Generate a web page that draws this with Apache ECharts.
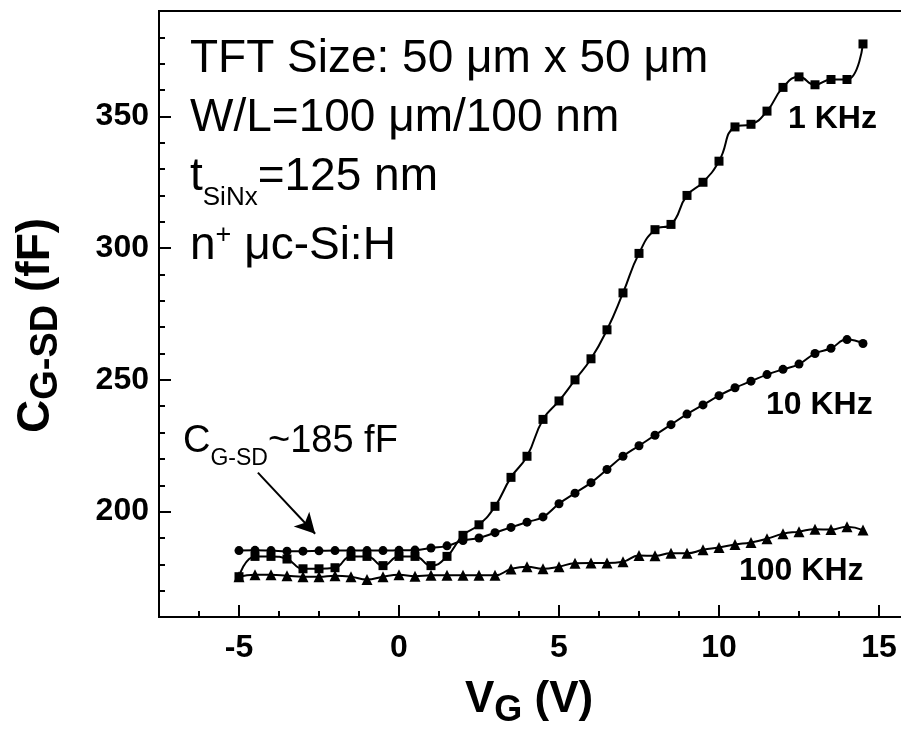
<!DOCTYPE html>
<html><head><meta charset="utf-8">
<script src="https://cdn.jsdelivr.net/npm/echarts@6/dist/echarts.min.js"></script>
<style>html,body{margin:0;padding:0;background:#fff;overflow:hidden;width:901px;height:734px}#c{width:980px;height:734px}</style>
</head><body><div id="c"></div>
<script>
// ---- data ----
const vg = [-5,-4.5,-4,-3.5,-3,-2.5,-2,-1.5,-1,-0.5,0,0.5,1,1.5,2,2.5,3,3.5,4,4.5,5,5.5,6,6.5,7,7.5,8,8.5,9,9.5,10,10.5,11,11.5,12,12.5,13,13.5,14,14.5];
const c1k = [175.3,183,183,182,178.3,178.3,178.7,183,183,179.5,183,183,179.5,183,191,195,202,213,221,235,242,250,258,269,283,298,307,309,320,325,333,346,347,352,361,365,362,364,364,377.5];
const c10k = [185.2,185.3,185.2,185,185,185.1,185.2,185.2,185.2,185.2,185.3,185.4,186.2,187,189,190,192,194,196,198,203,207,211,216,221,225,229,233,237,240.5,244,247,249.5,252,254,256,260,262,265.3,263.8];
const c100k = [175.3,176,176,175.7,175.3,175.3,175.7,175.3,174.2,175.3,176,175.5,175.8,175.8,175.8,175.8,175.8,178.2,179.1,178.3,179.1,180.4,180.5,180.5,181,183.3,183.2,184.2,184.2,185.5,186.4,187.5,188.3,189.7,191.6,192.4,193.3,193.2,194.3,193];
const seriesNames = ['1 KHz','10 KHz','100 KHz'];
const xMajorTicks = [-5,0,5,10,15];
const xMinorTicks = [-6.25,-3.75,-2.5,-1.25,1.25,2.5,3.75,6.25,7.5,8.75,11.25,12.5,13.75,16.25];
const yMajorTicks = [200,250,300,350];
const yMinorTicks = [170,180,190,210,220,230,240,260,270,280,290,310,320,330,340,360,370,380];
const arrowFrom = [-4.41, 214.8];
const arrowTo = [-2.62, 191.6];

// ---- helpers ----
const FAM = '"Liberation Sans", Arial, sans-serif';
const ctx = document.createElement('canvas').getContext('2d');
function tw(t, s, w) { ctx.font = w + ' ' + s + 'px ' + FAM; return ctx.measureText(t).width; }
function runs(x0, base, parts, w) {
  let x = x0; const out = [];
  parts.forEach(p => {
    const [t, s, dy] = p;
    out.push({ type: 'text', x: x, y: base + dy - 0.35 * s, silent: true,
      style: { text: t, font: w + ' ' + s + 'px ' + FAM, fill: '#000', verticalAlign: 'middle', textAlign: 'left' } });
    x += tw(t, s, w);
  });
  return out;
}
const pts = arr => vg.map((v, i) => [v, arr[i]]);

const chart = echarts.init(document.getElementById('c'), null, { renderer: 'canvas' });
const axisCommon = { min: -7.5, max: 17.5, type: 'value', splitLine: { show: false } };
const graphics = [].concat(
  runs(190, 75, [['TFT Size: 50 \u03bcm x 50 \u03bcm', 46, 0]], 'normal'),
  runs(190, 134, [['W/L=100 \u03bcm/100 nm', 46, 0]], 'normal'),
  runs(190, 193, [['t', 46, 0], ['SiNx', 26, 14], ['=125 nm', 46, 0]], 'normal'),
  runs(190, 262, [['n', 46, 0], ['+', 27, -17], [' \u03bcc-Si:H', 46, 0]], 'normal'),
  runs(183, 455, [['C', 38, 0], ['G-SD', 23, 12], ['~185 fF', 38, 0]], 'normal'),
  runs(788, 130, [['1 KHz', 32, 0]], 'bold'),
  runs(766, 416, [['10 KHz', 32, 0]], 'bold'),
  runs(739, 582, [['100 KHz', 32, 0]], 'bold'),
  runs(465, 715, [['V', 44, 0], ['G', 36, 9], [' (V)', 44, 0]], 'bold'),
  [{ type: 'group', x: 52, y: 433, rotation: Math.PI / 2,
     children: runs(0, 0, [['C', 46, 0], ['G-SD', 38, 8], [' (fF)', 46, 0]], 'bold') }]
);

chart.setOption({
  animation: false,
  backgroundColor: '#fff',
  grid: { left: 159, top: 11, width: 800, height: 606, show: true, borderColor: '#000', borderWidth: 2, backgroundColor: 'transparent' },
  xAxis: [
    Object.assign({}, axisCommon, {
      position: 'bottom',
      axisLine: { show: true, onZero: false, lineStyle: { color: '#000', width: 2 } },
      axisTick: { show: true, inside: true, length: 12, lineStyle: { color: '#000', width: 2 }, customValues: xMajorTicks },
      axisLabel: { show: true, customValues: xMajorTicks, margin: 15, color: '#000', fontSize: 32, fontWeight: 'bold', fontFamily: FAM }
    }),
    Object.assign({}, axisCommon, {
      position: 'bottom',
      axisLine: { show: false, onZero: false },
      axisTick: { show: true, inside: true, length: 6, lineStyle: { color: '#000', width: 2 }, customValues: xMinorTicks },
      axisLabel: { show: false }
    })
  ],
  yAxis: [
    { type: 'value', min: 160, max: 390, position: 'left', splitLine: { show: false },
      axisLine: { show: true, onZero: false, lineStyle: { color: '#000', width: 2 } },
      axisTick: { show: true, inside: true, length: 12, lineStyle: { color: '#000', width: 2 }, customValues: yMajorTicks },
      axisLabel: { show: true, customValues: yMajorTicks, margin: 10, color: '#000', fontSize: 32, fontWeight: 'bold', fontFamily: FAM } },
    { type: 'value', min: 160, max: 390, position: 'left', splitLine: { show: false },
      axisLine: { show: false, onZero: false },
      axisTick: { show: true, inside: true, length: 6, lineStyle: { color: '#000', width: 2 }, customValues: yMinorTicks },
      axisLabel: { show: false } }
  ],
  series: [
    { name: seriesNames[0], type: 'line', data: pts(c1k), smooth: 0.5, symbol: 'rect', symbolSize: 9,
      lineStyle: { color: '#000', width: 2 }, itemStyle: { color: '#000' }, z: 3,
      markLine: { silent: true, symbol: ['none', 'arrow'], symbolSize: [16, 20], label: { show: false },
        lineStyle: { color: '#000', width: 2, type: 'solid' },
        data: [[{ coord: arrowFrom }, { coord: arrowTo }]] } },
    { name: seriesNames[1], type: 'line', data: pts(c10k), smooth: 0.5, symbol: 'circle', symbolSize: 9,
      lineStyle: { color: '#000', width: 2 }, itemStyle: { color: '#000' }, z: 3 },
    { name: seriesNames[2], type: 'line', data: pts(c100k), smooth: 0.5, symbol: 'triangle', symbolSize: 11,
      lineStyle: { color: '#000', width: 2 }, itemStyle: { color: '#000' }, z: 3 }
  ],
  graphic: graphics
});
</script></body></html>
